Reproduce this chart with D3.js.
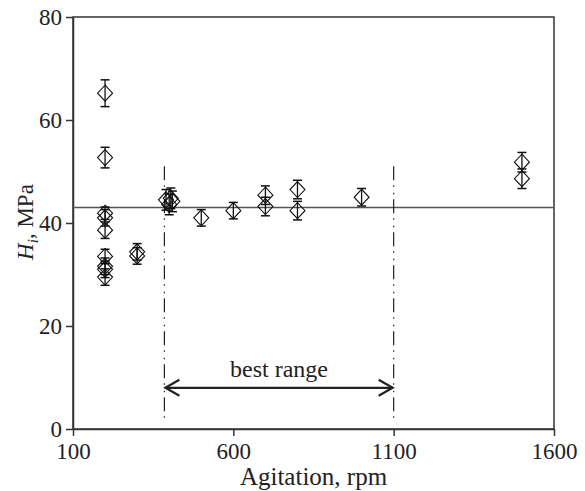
<!DOCTYPE html>
<html><head><meta charset="utf-8">
<script src="https://cdn.jsdelivr.net/npm/d3@7"></script>
<style>body{margin:0;background:#fff}svg{display:block}</style>
</head><body>
<script>
const rpm      = [200,200,200,200,200,200,200,200,200, 300,300, 390,400,405,410, 500, 600, 700,700, 800,800, 1000, 1500,1500];
const hardness = [65.2,52.7,41.9,41.0,38.6,33.5,31.6,31.0,29.5, 34.4,33.6, 44.5,43.6,44.8,44.2, 41.0, 42.4, 45.4,43.2, 46.5,42.4, 45.0, 51.8,48.6];
const errors   = [2.6,2.0,1.2,1.6,1.6,1.4,1.6,1.6,1.6, 1.6,1.6, 2.0,2.0,2.0,2.0, 1.6, 1.6, 1.8,1.8, 1.8,1.8, 1.7, 1.9,1.9];
const xTicks = [100,600,1100,1600];
const yTicks = [0,20,40,60,80];
const meanLine = 43;
const rangeBounds = [385,1100];
const rangeSpan = [1.5,51];
const arrowLevel = 8;
const rangeLabel = "best range";

const W=585,H=491;
const m={l:73,r:31,t:17,b:62};
const svg=d3.select("body").append("svg").attr("width",W).attr("height",H);
const x=d3.scaleLinear().domain([100,1600]).range([m.l,W-m.r]);
const y=d3.scaleLinear().domain([0,80]).range([H-m.b,m.t]);
const font="'Liberation Serif','Times New Roman',serif";
const axisCol="#333";

svg.append("rect").attr("x",x(100)).attr("y",y(80)).attr("width",x(1600)-x(100)).attr("height",y(0)-y(80))
  .attr("fill","none").attr("stroke",axisCol).attr("stroke-width",1.5);

const xa=svg.append("g").attr("transform",`translate(0,${y(0)})`)
  .call(d3.axisBottom(x).tickValues(xTicks).tickFormat(d3.format("d")).tickSize(7).tickSizeOuter(0).tickPadding(7));
const ya=svg.append("g").attr("transform",`translate(${x(100)},0)`)
  .call(d3.axisLeft(y).tickValues(yTicks).tickFormat(d3.format("d")).tickSize(7).tickSizeOuter(0).tickPadding(4));
[xa,ya].forEach(g=>{
  g.select(".domain").attr("stroke",axisCol).attr("stroke-width",1.5);
  g.selectAll(".tick line").attr("stroke",axisCol).attr("stroke-width",1.5);
  g.selectAll(".tick text").attr("font-family",font).attr("font-size",23).attr("fill","#222");
});

svg.append("line").attr("x1",x(100)).attr("x2",x(1600)).attr("y1",y(meanLine)).attr("y2",y(meanLine))
  .attr("stroke","#555").attr("stroke-width",1.5);

svg.selectAll(".bound").data(rangeBounds).enter().append("line")
  .attr("x1",d=>x(d)).attr("x2",d=>x(d)).attr("y1",y(rangeSpan[1])).attr("y2",y(rangeSpan[0]))
  .attr("stroke","#222").attr("stroke-width",1.2).attr("stroke-dasharray","14,5,1.5,6,1.5,5");

const ay=y(arrowLevel), ax1=x(rangeBounds[0]), ax2=x(rangeBounds[1]);
svg.append("line").attr("x1",ax1+1).attr("x2",ax2-1).attr("y1",ay).attr("y2",ay).attr("stroke","#222").attr("stroke-width",2.2);
svg.append("path").attr("d",`M${ax1+15},${ay-8}L${ax1+1},${ay}L${ax1+15},${ay+8}`).attr("fill","none").attr("stroke","#222").attr("stroke-width",2.2);
svg.append("path").attr("d",`M${ax2-15},${ay-8}L${ax2-1},${ay}L${ax2-15},${ay+8}`).attr("fill","none").attr("stroke","#222").attr("stroke-width",2.2);
svg.append("text").attr("x",(ax1+ax2)/2).attr("y",ay-11).attr("text-anchor","middle")
  .attr("font-family",font).attr("font-size",24).attr("fill","#222").text(rangeLabel);

const pts=rpm.map((r,i)=>({r,v:hardness[i],e:errors[i]}));
const g=svg.append("g");
pts.forEach(p=>{
  const cx=x(p.r), cy=y(p.v), t=y(p.v+p.e), b=y(p.v-p.e);
  g.append("line").attr("x1",cx).attr("x2",cx).attr("y1",t).attr("y2",b).attr("stroke","#111").attr("stroke-width",1.3);
  g.append("line").attr("x1",cx-4.5).attr("x2",cx+4.5).attr("y1",t).attr("y2",t).attr("stroke","#111").attr("stroke-width",1.5);
  g.append("line").attr("x1",cx-4.5).attr("x2",cx+4.5).attr("y1",b).attr("y2",b).attr("stroke","#111").attr("stroke-width",1.5);
  g.append("path").attr("d",`M${cx},${cy-8}L${cx+7.5},${cy}L${cx},${cy+8}L${cx-7.5},${cy}Z`)
    .attr("fill","none").attr("stroke","#111").attr("stroke-width",1.1);
});

svg.append("text").attr("x",(x(100)+x(1600))/2).attr("y",485).attr("text-anchor","middle")
  .attr("font-family",font).attr("font-size",25).attr("fill","#222").text("Agitation, rpm");
const yl=svg.append("text").attr("transform",`translate(33,222) rotate(-90)`).attr("text-anchor","middle")
  .attr("font-family",font).attr("font-size",23).attr("fill","#222");
yl.append("tspan").attr("font-style","italic").text("H");
yl.append("tspan").attr("font-style","italic").attr("font-size",15).attr("dy",5).text("i");
yl.append("tspan").attr("dy",-5).text(", MPa");
</script>
</body></html>
